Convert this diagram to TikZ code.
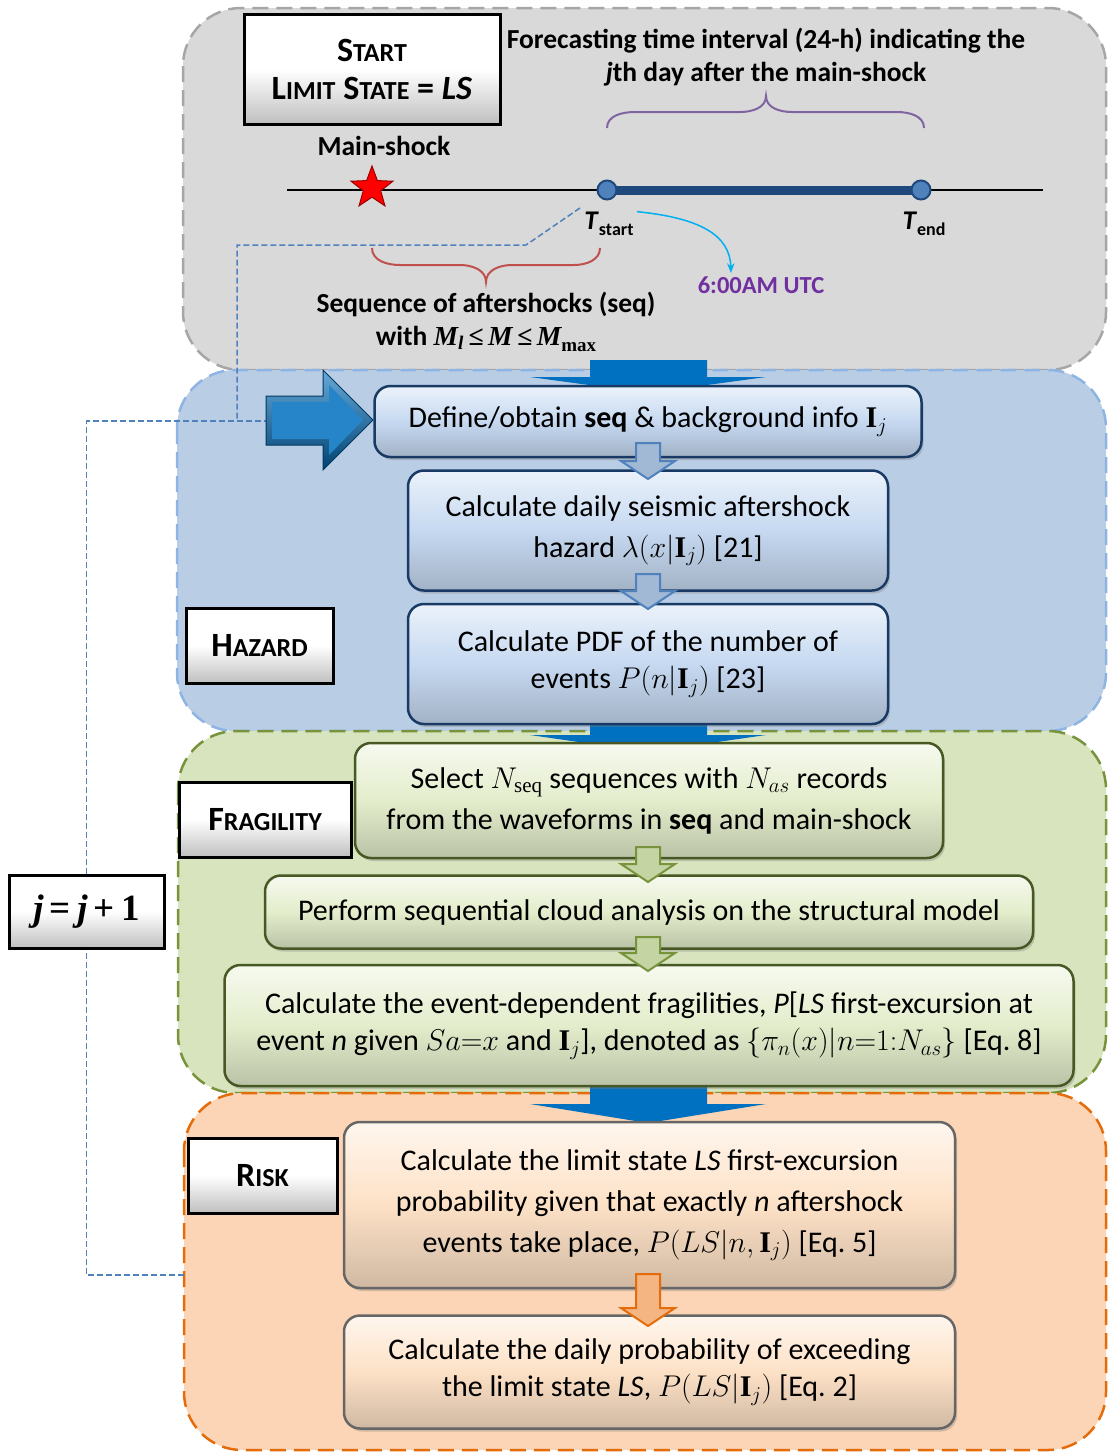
\RequirePackage{fix-cm}
\documentclass[tikz,border=0pt]{standalone}
\usepackage{amsmath}
\usepackage{fontspec}
\setmainfont{Carlito}
\setmathrm{Liberation Serif}
\newfontfamily\tnr{Liberation Serif}
\usetikzlibrary{positioning, shapes.geometric, shadows, arrows.meta}

\definecolor{grayfill}{HTML}{D9D9D9}
\definecolor{grayedge}{HTML}{A6A6A6}
\definecolor{hazfill}{HTML}{B9CDE5}
\definecolor{hazedge}{HTML}{8EB4E3}
\definecolor{hazbody}{HTML}{C6D9F1}
\definecolor{fragfill}{HTML}{D7E4BD}
\definecolor{fragedge}{HTML}{77933C}
\definecolor{fragbody}{HTML}{E3EDCB}
\definecolor{riskfill}{HTML}{FBD5B5}
\definecolor{riskedge}{HTML}{E46C0A}
\definecolor{riskbody}{HTML}{FDE1C6}
\definecolor{bigblue}{HTML}{0070C0}
\definecolor{navy}{HTML}{1F497D}
\definecolor{midblue}{HTML}{4F81BD}
\definecolor{purp}{HTML}{7030A0}
\definecolor{bracepurp}{HTML}{8064A2}
\definecolor{bracered}{HTML}{C0504D}
\definecolor{cyanarrow}{HTML}{00B0F0}

% fake small caps: big first letter, smaller rest
\newcommand{\capsword}[2]{#1{\fontsize{26}{26}\selectfont #2}}
% hollow down arrow: style, x, top, tip
\newcommand{\hollowdown}[4]{%
  \draw[#1] (#2-12,#3) -- (#2+12,#3) -- (#2+12,#4-18) -- (#2+27,#4-18) -- (#2,#4)
    -- (#2-27,#4-18) -- (#2-12,#4-18) -- cycle;}
% big flat down arrow between panels: top, head, tip
\newcommand{\bigdown}[3]{%
  \fill[bigblue] (590,#1) -- (707,#1) -- (707,#2) -- (766,#2) -- (648,#3)
    -- (530,#2) -- (590,#2) -- cycle;}

\tikzset{
  panel/.style={rounded corners=58pt, dash pattern=on 16pt off 8pt, line width=2.5pt},
  procbox/.style={rounded corners=16pt, line width=2.5pt, align=center, inner sep=0pt,
    font=\fontsize{30}{41}\selectfont,
    drop shadow={shadow xshift=2pt, shadow yshift=-3pt, opacity=0.35}},
  hazbox/.style={procbox, draw=navy!80!black, top color=hazbody!35, bottom color=hazbody!82!black, middle color=hazbody},
  fragbox/.style={procbox, draw=fragedge!60!black, top color=fragbody!30, bottom color=fragbody!82!black, middle color=fragbody},
  riskbox/.style={procbox, draw=black!60, top color=riskbody!30, bottom color=riskbody!82!black, middle color=riskbody},
  tagbox/.style={draw=black, line width=3pt, top color=white, bottom color=black!25, middle color=white,
    align=center, inner sep=0pt, font=\fontsize{34}{40}\selectfont\bfseries},
  loopline/.style={midblue, dash pattern=on 6pt off 3pt, line width=1.5pt},
  hazarrow/.style={fill=hazfill!85!navy, draw=midblue, line width=2pt},
  fragarrow/.style={fill=fragfill!80!fragedge, draw=fragedge, line width=2pt},
  riskarrow/.style={fill=riskfill!70!riskedge, draw=riskedge, line width=2pt},
  bigtext/.style={font=\fontsize{27.5}{33}\selectfont\bfseries, align=center}
}

\begin{document}
\begin{tikzpicture}[x=1pt, y=-1pt, >=Stealth]
    \useasboundingbox (0,0) rectangle (1108,1452);

    %define the panels
    \draw[panel, fill=grayfill, draw=grayedge] (183,8) rectangle (1106,370);
    \draw[panel, fill=hazfill, draw=hazedge] (177,370) rectangle (1106,731);
    \draw[panel, fill=fragfill, draw=fragedge] (178,731) rectangle (1106,1093);
    \draw[panel, fill=riskfill, draw=riskedge] (184,1093) rectangle (1106,1450);

    %big arrows between panels
    \bigdown{360}{377}{393}
    \bigdown{719}{735}{752}
    \bigdown{1085}{1104}{1123}

    %timeline
    \node[tagbox, minimum width=256, minimum height=110] (start) at (372,69)
        {\capsword{S}{TART}\\[-2pt]\capsword{L}{IMIT} \capsword{S}{TATE} = \textit{LS}};
    \node[bigtext] (interval) at (766,57)
        {Forecasting time interval (24-h) indicating the\\\textit{j}th day after the main-shock};
    \node[bigtext] (mainshock) at (384,146) {Main-shock};
    \draw[line width=2.5pt] (287,190) -- (1043,190);
    \coordinate (tstart) at (607,190);
    \coordinate (tend) at (921,190);
    \draw[navy, line width=9pt] (tstart) -- (tend);
    \node[circle, fill=midblue, draw=navy, line width=2pt, minimum size=19, inner sep=0pt] (startdot) at (tstart) {};
    \node[circle, fill=midblue, draw=navy, line width=2pt, minimum size=19, inner sep=0pt] (enddot) at (tend) {};
    \node[star, star points=5, star point ratio=2.4, fill=red, draw=red!60!black, line width=1pt,
        minimum size=44, inner sep=0pt] (star) at (372,188) {};
    \node[font=\fontsize{27}{27}\selectfont\bfseries] (tslabel) at (609,224)
        {\textit{T}\raisebox{-6pt}{\fontsize{18}{18}\selectfont start}};
    \node[font=\fontsize{27}{27}\selectfont\bfseries] (telabel) at (924,224)
        {\textit{T}\raisebox{-6pt}{\fontsize{18}{18}\selectfont end}};
    \node[font=\fontsize{24.5}{24.5}\selectfont\bfseries, text=purp] (utc) at (761,285) {6:00AM UTC};
    \draw[->, cyanarrow, line width=1.5pt] ([yshift=-3pt]tslabel.north east) .. controls (700,218) and (730,235) .. ([xshift=-30pt]utc.north);
    \node[bigtext] (seqtext) at (486,322)
        {Sequence of aftershocks (seq)\\with {\tnr\itshape M\textsubscript{l}\,≤\,M\,≤\,M}\raisebox{-6pt}{\tnr\fontsize{19}{19}\selectfont max}};

    %braces
    \draw[bracepurp, line width=2pt] (607,128) to[out=90,in=180] (635,112) -- (740,112)
        to[out=0,in=-90] (766,96) to[out=-90,in=180] (792,112) -- (897,112) to[out=0,in=90] (924,128);
    \draw[bracered, line width=2pt] (372,248) to[out=-90,in=180] (400,265) -- (460,265)
        to[out=0,in=90] (486,282) to[out=90,in=180] (512,265) -- (574,265) to[out=0,in=-90] (600,248);

    %hazard boxes
    \node[hazbox, minimum width=547, minimum height=71] (define) at (648,421.5)
        {Define/obtain \textbf{seq} \& background info $\mathbf{I}_j$};
    \node[hazbox, minimum width=480, minimum height=120, below=11pt of define] (daily)
        {Calculate daily seismic aftershock\\hazard $\lambda(x|\mathbf{I}_j)$ [21]};
    \node[hazbox, minimum width=480, minimum height=120, below=11pt of daily] (pdf)
        {Calculate PDF of the number of\\[-4pt]events $P(n|\mathbf{I}_j)$ [23]};
    \node[tagbox, minimum width=147, minimum height=75] (hazard) at (259.5,645.5) {\capsword{H}{AZARD}};

    %fragility boxes
    \node[fragbox, minimum width=588, minimum height=115] (select) at (649,800.5)
        {Select $N_{\mathrm{seq}}$ sequences with $N_{as}$ records\\from the waveforms in \textbf{seq} and main-shock};
    \node[fragbox, minimum width=768, minimum height=73, below=15pt of select] (perform)
        {Perform sequential cloud analysis on the structural model};
    \node[fragbox, minimum width=849, minimum height=121, below=14pt of perform] (event)
        {Calculate the event-dependent fragilities, \textit{P}[\textit{LS} first-excursion at\\[-4pt]
         event \textit{n} given $Sa{=}x$ and $\mathbf{I}_j$], denoted as $\{\pi_n(x)|n{=}1{:}N_{as}\}$ [Eq.~8]};
    \node[tagbox, minimum width=172, minimum height=75] (fragility) at (265,819.5) {\capsword{F}{RAGILITY}};

    %risk boxes
    \node[riskbox, minimum width=611, minimum height=166] (prob) at (649.5,1205)
        {Calculate the limit state \textit{LS} first-excursion\\probability given that exactly \textit{n} aftershock\\
         events take place, $P(LS|n,\mathbf{I}_j)$ [Eq.~5]};
    \node[riskbox, minimum width=611, minimum height=113, below=25pt of prob] (exceed)
        {Calculate the daily probability of exceeding\\[-4pt]the limit state \textit{LS}, $P(LS|\mathbf{I}_j)$ [Eq.~2]};
    \node[tagbox, minimum width=149, minimum height=75] (risk) at (262.5,1175.5) {\capsword{R}{ISK}};

    %small arrows between boxes
    \hollowdown{hazarrow}{648}{443}{479}
    \hollowdown{hazarrow}{648}{574}{609}
    \hollowdown{fragarrow}{648}{847}{882}
    \hollowdown{fragarrow}{648}{937}{971}
    \hollowdown{riskarrow}{648}{1274}{1326}

    %the loop back to the next day
    \node[tagbox, minimum width=155, minimum height=73, font=\fontsize{37}{37}\selectfont\tnr\bfseries] (jbox) at (86.5,911.5)
        {\textit{j}\,=\,\textit{j}\,+\,1};
    \coordinate (loopstart) at (184,1275);
    \coordinate (arrowtail) at (266,421);
    \coordinate (seqlink) at (580,208);
    \draw[loopline] (loopstart) -| (jbox.south);
    \draw[loopline] (jbox.north) |- (arrowtail);
    \draw[loopline] (seqlink) -- (526,245) -| (237,421);

    %entry arrow
    \shade[top color=bigblue!60!white, bottom color=bigblue!60!black, draw=bigblue!50!black, line width=1pt]
        (arrowtail) -- (266,396) -- (323,396) -- (323,370) -- (373,420) -- (323,470) -- (323,445) -- (266,445) -- cycle;
    \fill[bigblue!85!white] (272,402) -- (329,402) -- (329,385) -- (363,420) -- (329,455) -- (329,439) -- (272,439) -- cycle;
\end{tikzpicture}
\end{document}
